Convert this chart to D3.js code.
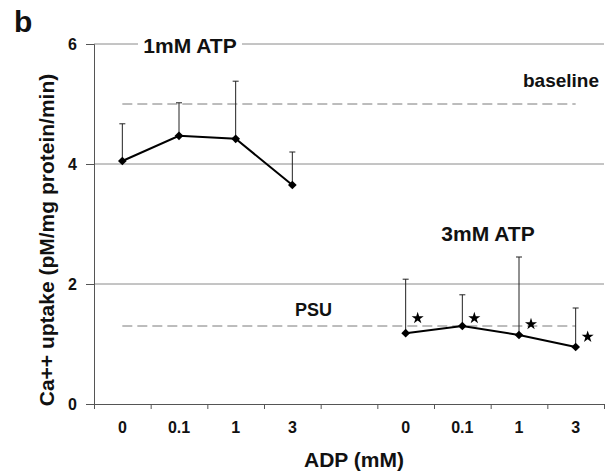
<!DOCTYPE html>
<html>
<head>
<meta charset="utf-8">
<script src="https://cdn.jsdelivr.net/npm/d3@7"></script>
<style>
  body { margin: 0; background: #fff; }
  text { font-family: "Liberation Sans", Arial, sans-serif; font-weight: bold; fill: #111; }
</style>
</head>
<body>
<div id="chart"></div>
<script>
// categories along the x axis (blank slot separates the two groups)
const xLabels = ["0", "0.1", "1", "3", "", "0", "0.1", "1", "3"];

// 1mM ATP group (slots 0-3)
const atp1Idx = [0, 1, 2, 3];
const atp1Mean = [4.05, 4.47, 4.42, 3.65];
const atp1Upper = [4.67, 5.02, 5.38, 4.2];

// 3mM ATP group (slots 5-8)
const atp3Idx = [5, 6, 7, 8];
const atp3Mean = [1.18, 1.3, 1.15, 0.95];
const atp3Upper = [2.08, 1.82, 2.45, 1.6];
const starY = [1.43, 1.43, 1.33, 1.12];

const baselineValue = 5.0;
const psuValue = 1.3;
const yTicks = [0, 2, 4, 6];

const width = 607, height = 474;
const plotLeft = 94, plotRight = 604, plotTop = 44, plotBottom = 404;

const svg = d3.select('#chart').append('svg')
    .attr('width', width)
    .attr('height', height);

const x = d3.scaleBand()
    .domain(d3.range(xLabels.length))
    .range([plotLeft, plotRight])
    .padding(0);
const xc = i => x(i) + x.bandwidth() / 2;

const y = d3.scaleLinear()
    .domain([0, 6])
    .range([plotBottom, plotTop]);

// gridlines
svg.append('g')
    .selectAll('line')
    .data(yTicks.filter(d => d > 0))
    .enter().append('line')
    .attr('x1', plotLeft).attr('x2', plotRight)
    .attr('y1', d => y(d)).attr('y2', d => y(d))
    .attr('stroke', '#8a8a8a')
    .attr('stroke-width', 1);

// y axis
const yAxis = svg.append('g')
    .attr('transform', `translate(${plotLeft},0)`)
    .call(d3.axisLeft(y).tickValues(yTicks).tickFormat(d3.format('d')).tickSize(8).tickPadding(9));
yAxis.select('.domain').attr('stroke', '#555');
yAxis.selectAll('.tick line').attr('stroke', '#555');
yAxis.selectAll('.tick text')
    .attr('font-size', 16)
    .attr('font-family', '"Liberation Sans", Arial, sans-serif')
    .attr('font-weight', 'bold')
    .attr('fill', '#111');

// x axis: tick marks at band boundaries
const xEdge = d3.scaleLinear().domain([0, xLabels.length]).range([plotLeft, plotRight]);
const xAxis = svg.append('g')
    .attr('transform', `translate(0,${plotBottom})`)
    .call(d3.axisBottom(xEdge).tickValues(d3.range(xLabels.length + 1)).tickSize(5).tickSizeOuter(0).tickFormat(''));
xAxis.select('.domain').attr('stroke', '#555');
xAxis.selectAll('.tick line').attr('stroke', '#555');

svg.append('g')
    .selectAll('text')
    .data(xLabels)
    .enter().append('text')
    .attr('x', (d, i) => xc(i))
    .attr('y', plotBottom + 29)
    .attr('text-anchor', 'middle')
    .attr('font-size', 16)
    .text(d => d);

// axis titles
svg.append('text')
    .attr('transform', 'translate(54,240) rotate(-90)')
    .attr('text-anchor', 'middle')
    .attr('font-size', 21)
    .text('Ca++ uptake (pM/mg protein/min)');

svg.append('text')
    .attr('x', xc(4) + 5)
    .attr('y', 467)
    .attr('text-anchor', 'middle')
    .attr('font-size', 21)
    .text('ADP (mM)');

svg.append('text')
    .attr('x', 14)
    .attr('y', 32)
    .attr('font-size', 30)
    .text('b');

// dashed reference lines
const refs = [baselineValue, psuValue];
svg.append('g')
    .selectAll('line')
    .data(refs)
    .enter().append('line')
    .attr('x1', xc(0)).attr('x2', xc(8))
    .attr('y1', d => y(d)).attr('y2', d => y(d))
    .attr('stroke', '#7a7a7a')
    .attr('stroke-width', 1)
    .attr('stroke-dasharray', '10,5');

svg.append('text')
    .attr('x', plotRight - 5).attr('y', y(baselineValue) - 17)
    .attr('text-anchor', 'end')
    .attr('font-size', 19)
    .text('baseline');

svg.append('text')
    .attr('x', 295).attr('y', y(psuValue) - 10)
    .attr('font-size', 18)
    .text('PSU');

// group labels
const lab1 = svg.append('g');
lab1.append('rect')
    .attr('x', 138).attr('y', 36).attr('width', 104).attr('height', 18)
    .attr('fill', '#fff');
lab1.append('text')
    .attr('x', 190).attr('y', 53)
    .attr('text-anchor', 'middle')
    .attr('font-size', 21)
    .text('1mM ATP');

svg.append('text')
    .attr('x', 488).attr('y', 241)
    .attr('text-anchor', 'middle')
    .attr('font-size', 21)
    .text('3mM ATP');

// series
const line = d3.line().x(d => xc(d.i)).y(d => y(d.v));

function drawSeries(idx, mean, upper) {
    const pts = idx.map((i, k) => ({ i: i, v: mean[k], u: upper[k] }));
    const g = svg.append('g');
    // error bars
    g.selectAll('.err')
        .data(pts)
        .enter().append('line')
        .attr('x1', d => xc(d.i)).attr('x2', d => xc(d.i))
        .attr('y1', d => y(d.v)).attr('y2', d => y(d.u))
        .attr('stroke', '#222').attr('stroke-width', 1);
    g.selectAll('.cap')
        .data(pts)
        .enter().append('line')
        .attr('x1', d => xc(d.i) - 3).attr('x2', d => xc(d.i) + 3)
        .attr('y1', d => y(d.u)).attr('y2', d => y(d.u))
        .attr('stroke', '#222').attr('stroke-width', 1);
    g.append('path')
        .datum(pts)
        .attr('d', line)
        .attr('fill', 'none')
        .attr('stroke', '#000')
        .attr('stroke-width', 2);
    g.selectAll('.pt')
        .data(pts)
        .enter().append('path')
        .attr('transform', d => `translate(${xc(d.i)},${y(d.v)}) rotate(45)`)
        .attr('d', d3.symbol(d3.symbolSquare, 38))
        .attr('fill', '#000');
    return pts;
}

drawSeries(atp1Idx, atp1Mean, atp1Upper);
drawSeries(atp3Idx, atp3Mean, atp3Upper);

// significance stars
svg.append('g')
    .selectAll('path')
    .data(atp3Idx.map((i, k) => ({ i: i, v: starY[k] })))
    .enter().append('path')
    .attr('transform', d => `translate(${xc(d.i) + 12},${y(d.v)})`)
    .attr('d', d3.symbol(d3.symbolStar, 45))
    .attr('fill', '#000');
</script>
</body>
</html>
